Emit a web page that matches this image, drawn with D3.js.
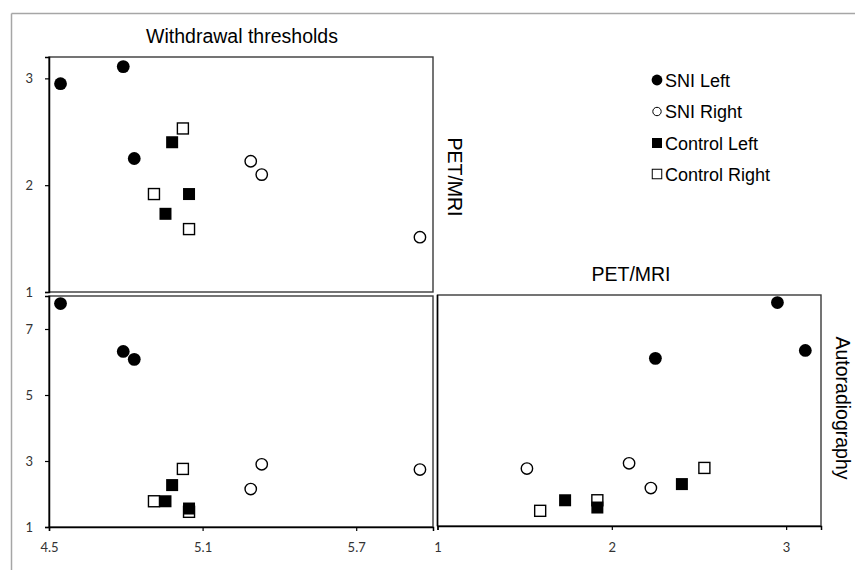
<!DOCTYPE html>
<html>
<head>
<meta charset="utf-8">
<script src="https://cdn.jsdelivr.net/npm/d3@7"></script>
<style>
  html, body { margin: 0; padding: 0; background: #fff; }
  svg { display: block; }
</style>
</head>
<body>
<svg id="chart" width="855" height="570"></svg>
<script>
// ---- data ----
const groups = ["SNI Left", "SNI Right", "Control Left", "Control Right"];
// withdrawal thresholds per subject
const sniLeftWT = [4.545, 4.79, 4.833];
const sniRightWT = [5.288, 5.331, 5.949];
const controlLeftWT = [4.981, 4.955, 5.047];
const controlRightWT = [5.023, 4.910, 5.047];
// PET/MRI per subject
const sniLeftPET = [2.95, 3.11, 2.25];
const sniRightPET = [2.224, 2.099, 1.513];
const controlLeftPET = [2.402, 1.732, 1.917];
const controlRightPET = [2.531, 1.917, 1.589];
// Autoradiography per subject
const sniLeftAR = [7.77, 6.32, 6.08];
const sniRightAR = [2.15, 2.90, 2.74];
const controlLeftAR = [2.27, 1.78, 1.56];
const controlRightAR = [2.76, 1.78, 1.46];
// axis ticks
const wtTicks = [4.5, 5.1, 5.7];
const petTicksY = [1, 2, 3];
const petTicksX = [1, 2, 3];
const arTicks = [1, 3, 5, 7];

const series = [
  { name: groups[0], wt: sniLeftWT, pet: sniLeftPET, ar: sniLeftAR, shape: "circle", filled: true },
  { name: groups[1], wt: sniRightWT, pet: sniRightPET, ar: sniRightAR, shape: "circle", filled: false },
  { name: groups[3], wt: controlRightWT, pet: controlRightPET, ar: controlRightAR, shape: "square", filled: false },
  { name: groups[2], wt: controlLeftWT, pet: controlLeftPET, ar: controlLeftAR, shape: "square", filled: true }
];

const svg = d3.select("#chart");

// outer frame
svg.append("line").attr("x1", 11.5).attr("y1", 13.5).attr("x2", 855).attr("y2", 13.5)
  .attr("stroke", "#a6a6a6").attr("stroke-width", 1.5);
svg.append("line").attr("x1", 11.5).attr("y1", 13.5).attr("x2", 11.5).attr("y2", 570)
  .attr("stroke", "#a6a6a6").attr("stroke-width", 1.5);

// scales
const xWT = d3.scaleLinear().domain([4.5, 6.0]).range([49, 433]);
const yPET = d3.scaleLinear().domain([1, 3.2]).range([292, 57]);
const yAR = d3.scaleLinear().domain([1, 8]).range([527, 296]);
const xPET = d3.scaleLinear().domain([1, 3.2]).range([437.5, 821]);
const yAR2 = d3.scaleLinear().domain([1, 8]).range([526, 295]);

function frame(xs, ys) {
  const [x0, x1] = xs.range();
  const [y0, y1] = ys.range();
  svg.append("rect")
    .attr("x", x0).attr("y", y1).attr("width", x1 - x0).attr("height", y0 - y1)
    .attr("fill", "none").attr("stroke", "#3a3a3a").attr("stroke-width", 1.4);
}

function styleAxis(g) {
  g.select(".domain").attr("stroke", "#000").attr("stroke-width", 1.5);
  g.selectAll(".tick line").attr("stroke", "#000").attr("stroke-width", 1.2);
  g.selectAll(".tick text")
    .attr("font-family", "Lato, 'Open Sans', sans-serif")
    .attr("font-size", 13).attr("fill", "#333");
}

function points(xs, ys, xKey, yKey) {
  const g = svg.append("g");
  series.forEach(s => {
    const pts = s[xKey].map((v, i) => [v, s[yKey][i]]);
    if (s.shape === "circle") {
      g.selectAll(null).data(pts).enter().append("circle")
        .attr("cx", d => xs(d[0])).attr("cy", d => ys(d[1]))
        .attr("r", s.filled ? 6.4 : 5.7)
        .attr("fill", s.filled ? "#000" : "#fff")
        .attr("stroke", "#000").attr("stroke-width", s.filled ? 0 : 1.4);
    } else {
      const sz = s.filled ? 12 : 11;
      g.selectAll(null).data(pts).enter().append("rect")
        .attr("x", d => xs(d[0]) - sz / 2).attr("y", d => ys(d[1]) - sz / 2)
        .attr("width", sz).attr("height", sz)
        .attr("fill", s.filled ? "#000" : "#fff")
        .attr("stroke", "#000").attr("stroke-width", s.filled ? 0 : 1.4);
    }
  });
}

// --- top-left: Withdrawal thresholds vs PET/MRI ---
frame(xWT, yPET);
svg.append("g").attr("transform", "translate(49,0)")
  .call(d3.axisLeft(yPET).tickValues(petTicksY).tickSize(4).tickPadding(12).tickFormat(d3.format("d")))
  .call(styleAxis);
points(xWT, yPET, "wt", "pet");

// --- bottom-left: Withdrawal thresholds vs Autoradiography ---
frame(xWT, yAR);
svg.append("g").attr("transform", "translate(49,0)")
  .call(d3.axisLeft(yAR).tickValues(arTicks).tickSize(4).tickPadding(12).tickFormat(d3.format("d")))
  .call(styleAxis);
svg.append("g").attr("transform", "translate(0,527)")
  .call(d3.axisBottom(xWT).tickValues(wtTicks).tickSize(4).tickPadding(12).tickFormat(d3.format(".1f")))
  .call(styleAxis);
points(xWT, yAR, "wt", "ar");

// --- bottom-right: PET/MRI vs Autoradiography ---
frame(xPET, yAR2);
svg.append("g").attr("transform", "translate(0,526)")
  .call(d3.axisBottom(xPET).tickValues(petTicksX).tickSize(4).tickPadding(13).tickFormat(d3.format("d")))
  .call(styleAxis);
svg.append("line").attr("x1", 437.5).attr("x2", 437.5).attr("y1", 295).attr("y2", 526)
  .attr("stroke", "#000").attr("stroke-width", 1.5);
points(xPET, yAR2, "pet", "ar");

// titles
const titleFont = "'Liberation Sans', Arial, sans-serif";
svg.append("text").attr("x", 242).attr("y", 43).attr("text-anchor", "middle")
  .attr("font-family", titleFont).attr("font-size", 19.5).text("Withdrawal thresholds");
svg.append("text").attr("x", 631).attr("y", 281).attr("text-anchor", "middle")
  .attr("font-family", titleFont).attr("font-size", 19.5).text("PET/MRI");
svg.append("text").attr("transform", "translate(447.5,177) rotate(90)").attr("text-anchor", "middle")
  .attr("font-family", titleFont).attr("font-size", 19.5).text("PET/MRI");
svg.append("text").attr("transform", "translate(836,408) rotate(90)").attr("text-anchor", "middle")
  .attr("font-family", titleFont).attr("font-size", 19.5).text("Autoradiography");

// legend
const legendY = [80, 111.5, 143, 174];
const legendItems = [
  { name: groups[0], shape: "circle", filled: true, r: 5.4 },
  { name: groups[1], shape: "circle", filled: false, r: 4.2 },
  { name: groups[2], shape: "square", filled: true, s: 10 },
  { name: groups[3], shape: "square", filled: false, s: 9.5 }
];
const lg = svg.append("g");
legendItems.forEach((it, i) => {
  const cy = legendY[i];
  if (it.shape === "circle") {
    lg.append("circle").attr("cx", 657).attr("cy", cy).attr("r", it.r)
      .attr("fill", it.filled ? "#000" : "#fff").attr("stroke", "#000").attr("stroke-width", it.filled ? 0 : 1);
  } else {
    lg.append("rect").attr("x", 657 - it.s / 2).attr("y", cy - it.s / 2).attr("width", it.s).attr("height", it.s)
      .attr("fill", it.filled ? "#000" : "#fff").attr("stroke", "#000").attr("stroke-width", it.filled ? 0 : 1);
  }
  lg.append("text").attr("x", 665).attr("y", cy + 6.5)
    .attr("font-family", titleFont).attr("font-size", 18).text(it.name);
});
</script>
</body>
</html>
